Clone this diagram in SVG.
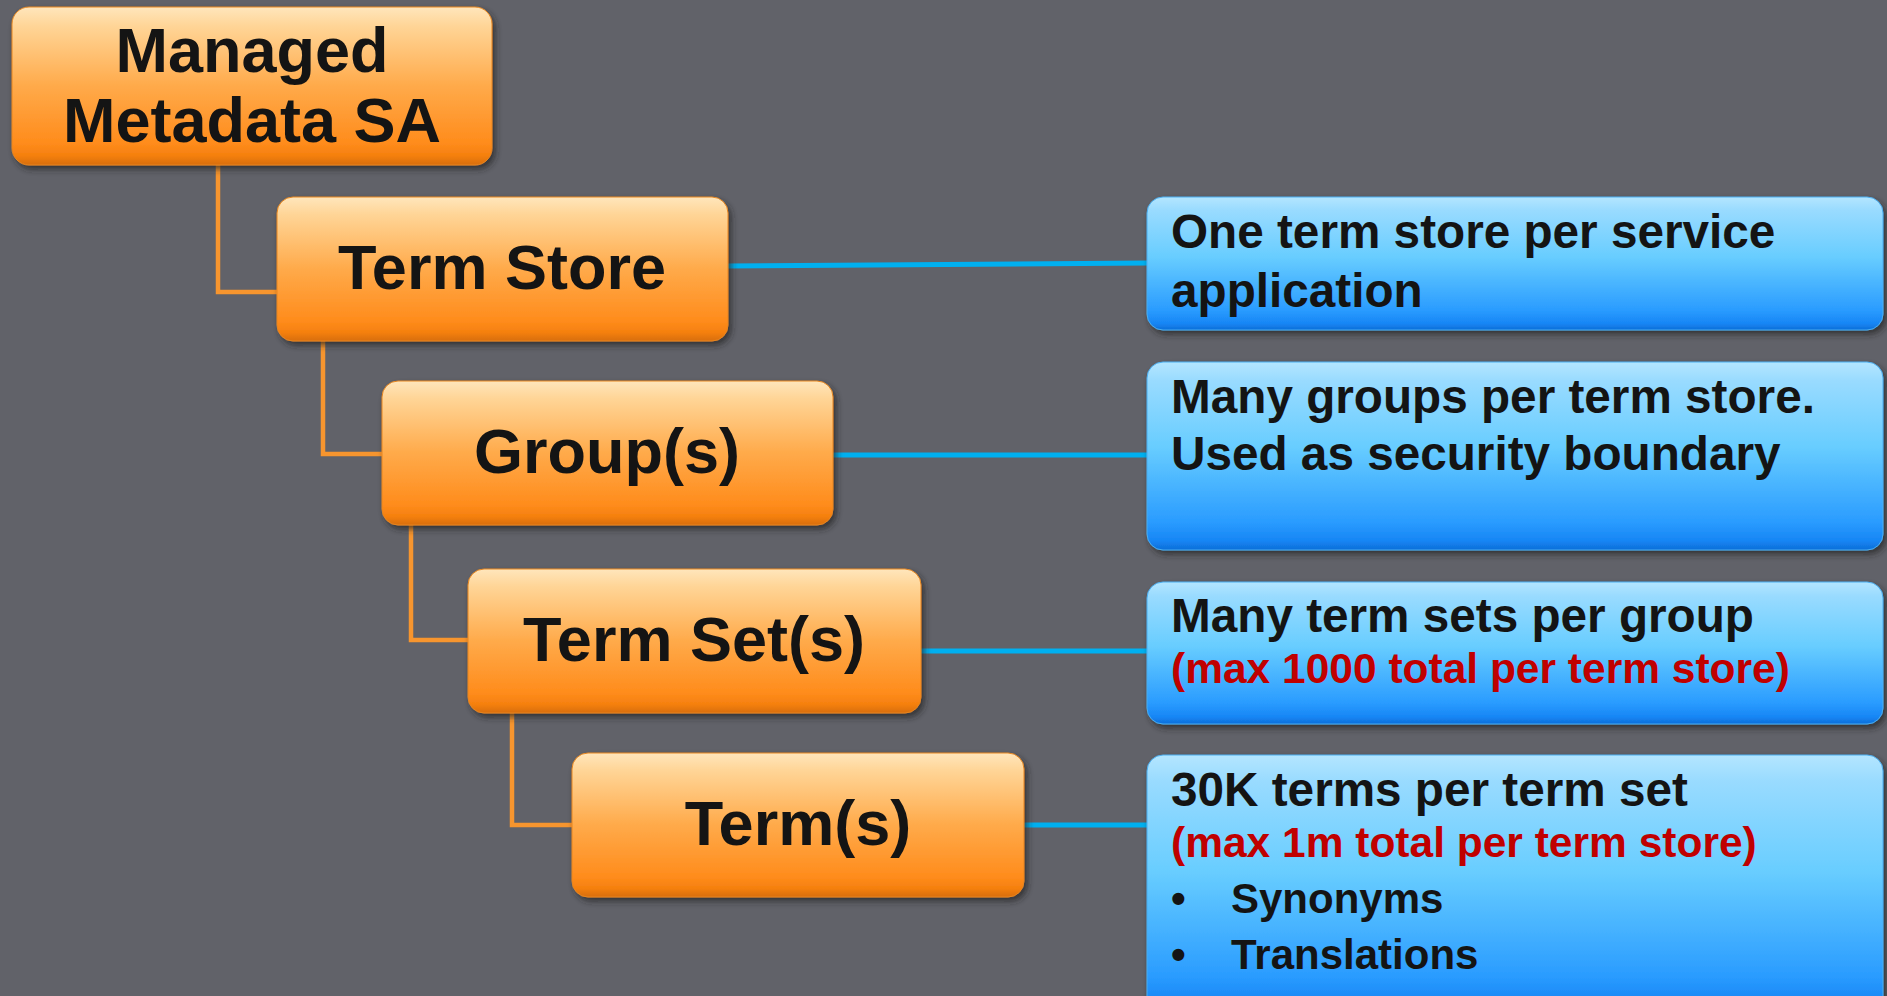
<svg xmlns="http://www.w3.org/2000/svg" width="1887" height="996" viewBox="0 0 1887 996">
<defs>
<linearGradient id="gOrange" x1="0" y1="0" x2="0" y2="1">
<stop offset="0" stop-color="#FFE6BC"/>
<stop offset="0.12" stop-color="#FFD597"/>
<stop offset="0.5" stop-color="#FFAA4A"/>
<stop offset="0.86" stop-color="#FF8C1C"/>
<stop offset="0.94" stop-color="#F5800F"/>
<stop offset="1" stop-color="#D86E0C"/>
</linearGradient>
<linearGradient id="gBlue" x1="0" y1="0" x2="0" y2="1">
<stop offset="0" stop-color="#B4E6FF"/>
<stop offset="0.1" stop-color="#99DBFF"/>
<stop offset="0.45" stop-color="#68CDFF"/>
<stop offset="0.85" stop-color="#2A9CFF"/>
<stop offset="0.95" stop-color="#1786F5"/>
<stop offset="1" stop-color="#0C6ED8"/>
</linearGradient>
<filter id="shadow" x="-5%" y="-5%" width="110%" height="120%">
<feDropShadow dx="3" dy="4" stdDeviation="3" flood-color="#202024" flood-opacity="0.7"/>
</filter>
</defs>
<style>
.bg{fill:#616269}
.ob{fill:url(#gOrange);stroke:#E8861E;stroke-width:1;filter:url(#shadow)}
.bb{fill:url(#gBlue);stroke:#4AAEF0;stroke-width:1;filter:url(#shadow)}
.ot{font-family:"Liberation Sans",Arial,sans-serif;font-weight:bold;font-size:63px;fill:#141414;text-anchor:middle}
.bt{font-family:"Liberation Sans",Arial,sans-serif;font-weight:bold;font-size:47.7px;fill:#141414}
.rt{font-family:"Liberation Sans",Arial,sans-serif;font-weight:bold;font-size:42.5px;fill:#C00000}
.lt{font-family:"Liberation Sans",Arial,sans-serif;font-weight:bold;font-size:42px;fill:#141414}
.oc{fill:none;stroke:#F7952E;stroke-width:4.5}
.bc{fill:none;stroke:#00B0F0;stroke-width:5}
</style>
<rect class="bg" x="0" y="0" width="1887" height="996"/>
<g id="connectors">
<path class="oc" d="M218,163 V292 H279"/>
<path class="oc" d="M323,339 V454 H384"/>
<path class="oc" d="M411,523 V640 H470"/>
<path class="oc" d="M512,711 V825 H574"/>
<path class="bc" d="M727,266 L1148,263"/>
<path class="bc" d="M832,455 H1148"/>
<path class="bc" d="M920,651 H1148"/>
<path class="bc" d="M1023,825 H1148"/>
</g>
<g id="managed-metadata-sa">
<rect class="ob" x="12" y="7" width="480" height="158" rx="17"/>
<text class="ot" x="252" y="72">Managed</text>
<text class="ot" x="252" y="142">Metadata SA</text>
</g>
<g id="term-store">
<rect class="ob" x="277" y="197" width="451" height="144" rx="16"/>
<text class="ot" x="502" y="289">Term Store</text>
</g>
<g id="groups">
<rect class="ob" x="382" y="381" width="451" height="144" rx="16"/>
<text class="ot" x="607" y="473">Group(s)</text>
</g>
<g id="term-sets">
<rect class="ob" x="468" y="569" width="453" height="144" rx="16"/>
<text class="ot" x="694" y="661">Term Set(s)</text>
</g>
<g id="terms">
<rect class="ob" x="572" y="753" width="452" height="144" rx="16"/>
<text class="ot" x="798" y="845">Term(s)</text>
</g>
<g id="note-term-store">
<rect class="bb" x="1147" y="197" width="736" height="133" rx="16"/>
<text class="bt" x="1171" y="248">One term store per service</text>
<text class="bt" x="1171" y="307">application</text>
</g>
<g id="note-groups">
<rect class="bb" x="1147" y="362" width="736" height="188" rx="16"/>
<text class="bt" x="1171" y="413">Many groups per term store.</text>
<text class="bt" x="1171" y="470">Used as security boundary</text>
</g>
<g id="note-term-sets">
<rect class="bb" x="1147" y="582" width="736" height="142" rx="16"/>
<text class="bt" x="1171" y="632">Many term sets per group</text>
<text class="rt" x="1171" y="683">(max 1000 total per term store)</text>
</g>
<g id="note-terms">
<rect class="bb" x="1147" y="755" width="736" height="260" rx="16"/>
<text class="bt" x="1171" y="806">30K terms per term set</text>
<text class="rt" x="1171" y="857">(max 1m total per term store)</text>
<text class="lt" x="1171" y="913">•</text>
<text class="lt" x="1231" y="913">Synonyms</text>
<text class="lt" x="1171" y="969">•</text>
<text class="lt" x="1231" y="969">Translations</text>
</g>
</svg>
